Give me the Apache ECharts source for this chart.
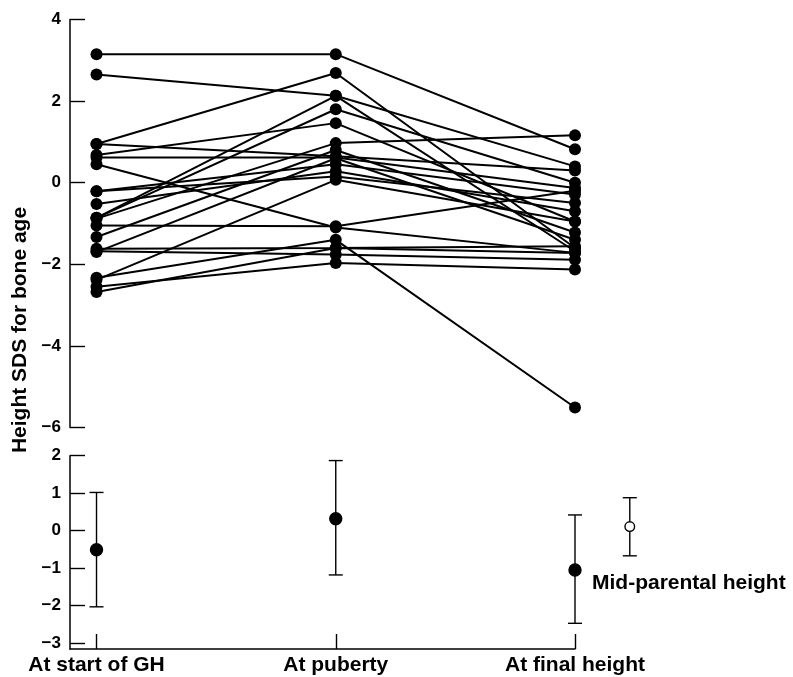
<!DOCTYPE html>
<html>
<head>
<meta charset="utf-8">
<script src="https://cdn.jsdelivr.net/npm/echarts@6/dist/echarts.min.js"></script>
<style>
html,body{margin:0;padding:0;background:#fff;}
#chart{width:793px;height:677px;}
</style>
</head>
<body>
<div id="chart"></div>
<script>
// ---- Data ----
const timeLabels = ['At start of GH', 'At puberty', 'At final height'];
const upperTicks = [4, 2, 0, -2, -4, -6];
const lowerTicks = [2, 1, 0, -1, -2, -3];

// individual subjects (Height SDS for bone age)
const startVals    = [3.15, 2.65, 0.95, 0.95, 0.68, 0.62, 0.45, -0.21, -0.21, -0.52, -0.86, -0.86, -0.88, -1.05, -1.33, -1.62, -1.68, -1.70, -2.33, -2.38, -2.55, -2.68];
const pubertyVals  = [3.15, 2.13, 2.69, 0.65, 1.46, 0.62, -1.10, 0.45, 0.15, 0.28, 2.13, 1.80, 0.97, -1.07, 0.80, -1.60, -1.76, 0.60, -1.40, 0.07, -1.97, -1.60];
const finalVals    = [0.82, 0.40, -1.60, 0.30, -0.95, -0.13, -1.72, -0.29, -0.50, -0.70, -1.68, 0.00, 1.16, -0.20, -1.22, -1.56, -1.89, -1.40, -5.51, -0.95, -2.13, -1.72];

// group summaries: mean and range of error bars
const meanVals  = [-0.51, 0.32, -1.05];
const upperVals = [1.02, 1.87, 0.42];
const lowerVals = [-2.03, -1.18, -2.47];
const midParentalX = 2.229;
const midParentalMean = 0.11;
const midParentalUpper = 0.88;
const midParentalLower = -0.67;

// ---- Chart ----
const chart = echarts.init(document.getElementById('chart'), null, {renderer: 'canvas'});
const FONT = 'Liberation Sans';

const subjectSeries = startVals.map((s, i) => ({
  type: 'line',
  xAxisIndex: 0, yAxisIndex: 0,
  data: [[0, s], [1, pubertyVals[i]], [2, finalVals[i]]],
  symbol: 'circle', symbolSize: 12,
  itemStyle: {color: '#000'},
  lineStyle: {color: '#000', width: 2},
  clip: false, silent: true, animation: false, z: 2
}));

const summaryData = meanVals.map((m, i) => [i, m, upperVals[i], lowerVals[i], 1]);
summaryData.push([midParentalX, midParentalMean, midParentalUpper, midParentalLower, 0]);

function renderBar(params, api) {
  const x = api.value(0);
  const pm = api.coord([x, api.value(1)]);
  const pu = api.coord([x, api.value(2)]);
  const pl = api.coord([x, api.value(3)]);
  const filled = api.value(4) === 1;
  const cap = 7;
  const ls = {stroke: '#000', lineWidth: 1.4};
  return {
    type: 'group',
    children: [
      {type: 'line', shape: {x1: pu[0], y1: pu[1], x2: pl[0], y2: pl[1]}, style: ls},
      {type: 'line', shape: {x1: pu[0] - cap, y1: pu[1], x2: pu[0] + cap, y2: pu[1]}, style: ls},
      {type: 'line', shape: {x1: pl[0] - cap, y1: pl[1], x2: pl[0] + cap, y2: pl[1]}, style: ls},
      {type: 'circle', shape: {cx: pm[0], cy: pm[1], r: filled ? 6 : 4.8},
       style: {fill: filled ? '#000' : '#fff', stroke: '#000', lineWidth: 1.4}}
    ]
  };
}

const xMin = -0.1108;
const option = {
  animation: false,
  backgroundColor: '#fff',
  grid: [
    {left: 70, top: 19.5, width: 505, height: 408},
    {left: 70, top: 455.7, width: 505, height: 193.3}
  ],
  xAxis: [
    {gridIndex: 0, type: 'value', min: xMin, max: 2, show: false},
    {gridIndex: 1, type: 'value', min: xMin, max: 2,
     axisLine: {show: true, onZero: false, lineStyle: {color: '#000', width: 1.5}},
     axisTick: {show: true, inside: true, length: 15, customValues: [0, 1, 2], lineStyle: {color: '#000', width: 1.4}},
     axisLabel: {customValues: [0, 1, 2], formatter: v => timeLabels[Math.round(v)] || '',
       fontFamily: FONT, fontSize: 21, fontWeight: 'bold', color: '#000', margin: 6},
     splitLine: {show: false}}
  ],
  yAxis: [
    {gridIndex: 0, type: 'value', min: -6, max: 4, interval: 2,
     axisLine: {show: true, onZero: false, lineStyle: {color: '#000', width: 1.5}},
     axisTick: {show: true, inside: true, length: 15, lineStyle: {color: '#000', width: 1.4}},
     axisLabel: {fontFamily: FONT, fontSize: 17, fontWeight: 'bold', color: '#000', margin: 9,
       formatter: v => (v < 0 ? '\u2212' + Math.abs(v) : String(v))},
     splitLine: {show: false}},
    {gridIndex: 1, type: 'value', min: -3.155, max: 2,
     axisLine: {show: true, onZero: false, lineStyle: {color: '#000', width: 1.5}},
     axisTick: {show: true, inside: true, length: 15, customValues: lowerTicks, lineStyle: {color: '#000', width: 1.4}},
     axisLabel: {customValues: lowerTicks, fontFamily: FONT, fontSize: 17, fontWeight: 'bold', color: '#000', margin: 9,
       formatter: v => (v < 0 ? '\u2212' + Math.abs(v) : String(v))},
     splitLine: {show: false}}
  ],
  graphic: [
    {type: 'text', x: 20, y: 330, rotation: Math.PI / 2,
     style: {text: 'Height SDS for bone age', font: 'bold 21px "Liberation Sans"', fill: '#000',
             textAlign: 'center', textVerticalAlign: 'middle'}},
    {type: 'text', x: 592, y: 583,
     style: {text: 'Mid-parental height', font: 'bold 21px "Liberation Sans"', fill: '#000',
             textAlign: 'left', textVerticalAlign: 'middle'}}
  ],
  series: subjectSeries.concat([{
    type: 'custom', xAxisIndex: 1, yAxisIndex: 1,
    renderItem: renderBar, data: summaryData, clip: false, silent: true, z: 3
  }])
};
chart.setOption(option);
</script>
</body>
</html>
